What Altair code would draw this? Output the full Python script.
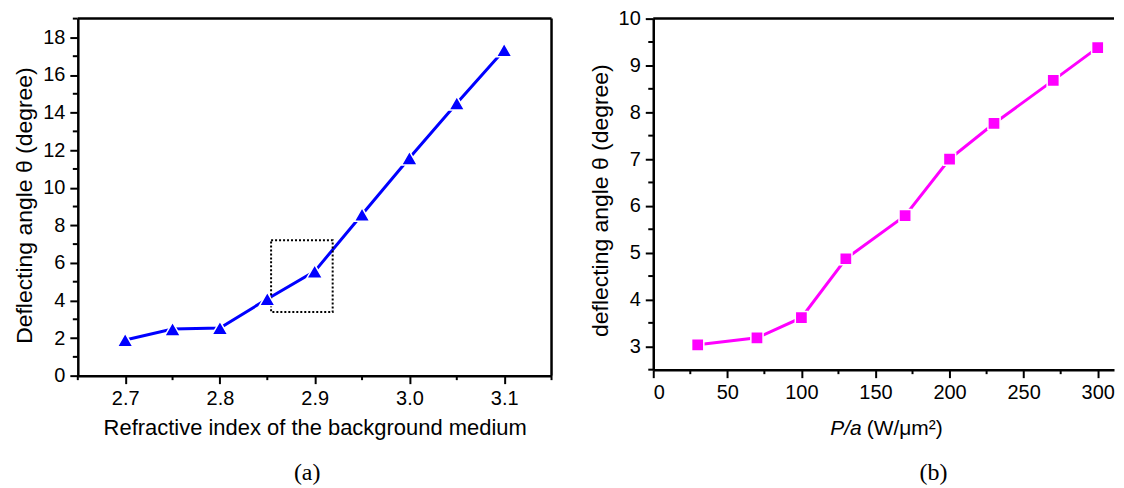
import altair as alt
import pandas as pd

# ---------------- data: panel (a) ----------------
n_bg = [2.70, 2.75, 2.80, 2.85, 2.90, 2.95, 3.00, 3.05, 3.10]
theta_a = [1.90, 2.48, 2.54, 4.08, 5.55, 8.58, 11.58, 14.50, 17.33]
box_x1 = [2.854]
box_x2 = [2.919]
box_y1 = [3.39]
box_y2 = [7.20]
a_x_major = [2.7, 2.8, 2.9, 3.0, 3.1]
a_x_minor = [2.65, 2.75, 2.85, 2.95, 3.05, 3.15]
a_y_major = [0, 2, 4, 6, 8, 10, 12, 14, 16, 18]
a_y_minor = [1, 3, 5, 7, 9, 11, 13, 15, 17, 19]

# ---------------- data: panel (b) ----------------
p_a = [30, 70, 100, 130, 170, 200, 230, 270, 300]
theta_b = [3.03, 3.18, 3.61, 4.87, 5.79, 7.00, 7.76, 8.68, 9.38]
b_x_major = [0, 50, 100, 150, 200, 250, 300]
b_x_minor = [25, 75, 125, 175, 225, 275]
b_y_major = [3, 4, 5, 6, 7, 8, 9, 10]
b_y_minor = [2.5, 3.5, 4.5, 5.5, 6.5, 7.5, 8.5, 9.5]

FONT = "Liberation Sans"
SERIF = "Liberation Serif"
BLUE = "#0000FF"
MAGENTA = "#FF00FF"

one = pd.DataFrame({"k": [0]})

# ---------------- panel (a) ----------------
AW, AH = 475, 358
xa = alt.Scale(domain=[2.65, 3.15], nice=False, zero=False)
ya = alt.Scale(domain=[0, 19], nice=False, zero=False)
ax_xa = alt.Axis(values=a_x_major, format=".1f",
                 title="Refractive index of the background medium",
                 titleFontSize=22, titleY=59.5, titleBaseline="alphabetic")
ax_ya = alt.Axis(values=a_y_major, format="d", titleFontSize=23,
                 title="Deflecting angle θ (degree)", titleY=187)

df_a = pd.DataFrame({"n": n_bg, "t": theta_a})

line_a = alt.Chart(df_a).mark_line(color=BLUE, strokeWidth=3).encode(
    x=alt.X("n:Q", scale=xa, axis=ax_xa),
    y=alt.Y("t:Q", scale=ya, axis=ax_ya),
)
pts_a = alt.Chart(df_a).mark_point(
    shape="triangle-up", filled=True, size=250, color=BLUE, fill=BLUE,
    stroke="white", strokeWidth=1.5, opacity=1
).encode(
    x=alt.X("n:Q", scale=xa, axis=ax_xa),
    y=alt.Y("t:Q", scale=ya, axis=ax_ya),
)
box_a = alt.Chart(pd.DataFrame({"x1": box_x1, "x2": box_x2, "y1": box_y1, "y2": box_y2})).mark_rect(
    fill="white", fillOpacity=0, stroke="black", strokeWidth=2, strokeDash=[2, 2]
).encode(
    x=alt.X("x1:Q", scale=xa, axis=ax_xa), x2="x2:Q",
    y=alt.Y("y1:Q", scale=ya, axis=ax_ya), y2="y2:Q",
)
ymin_a = alt.Chart(pd.DataFrame({"v": a_y_minor})).mark_rule(color="black", strokeWidth=2).encode(
    y=alt.Y("v:Q", scale=ya, axis=ax_ya), x=alt.value(-5), x2=alt.value(0))
xmin_a = alt.Chart(pd.DataFrame({"v": a_x_minor})).mark_rule(color="black", strokeWidth=2).encode(
    x=alt.X("v:Q", scale=xa, axis=ax_xa), y=alt.value(AH), y2=alt.value(AH + 4.5))
top_a = alt.Chart(one).mark_rule(color="black", strokeWidth=2.5).encode(
    x=alt.value(0), x2=alt.value(AW), y=alt.value(0))
right_a = alt.Chart(one).mark_rule(color="black", strokeWidth=2.5).encode(
    x=alt.value(AW), y=alt.value(0), y2=alt.value(AH))
cap_a = alt.Chart(one).mark_text(
    text="(a)", font=SERIF, fontSize=24, align="center", baseline="alphabetic", color="black"
).encode(x=alt.value(230), y=alt.value(463))

left = alt.layer(line_a, box_a, pts_a, ymin_a, xmin_a, top_a, right_a, cap_a).properties(
    width=AW, height=AH)

# ---------------- panel (b) ----------------
BW, BH = 462, 352
xb = alt.Scale(domain=[0, 311], nice=False, zero=False)
yb = alt.Scale(domain=[2.5, 10], nice=False, zero=False)
ax_xb = alt.Axis(values=b_x_major, format="d", title=None)
ax_yb = alt.Axis(values=b_y_major, format="d", titleFontSize=23,
                 title="deflecting angle θ (degree)", titleY=182)

df_b = pd.DataFrame({"p": p_a, "t": theta_b})

line_b = alt.Chart(df_b).mark_line(color=MAGENTA, strokeWidth=3).encode(
    x=alt.X("p:Q", scale=xb, axis=ax_xb),
    y=alt.Y("t:Q", scale=yb, axis=ax_yb),
)
pts_b = alt.Chart(df_b).mark_point(
    shape="square", filled=True, size=150, color=MAGENTA, fill=MAGENTA,
    stroke="white", strokeWidth=1.5, opacity=1
).encode(
    x=alt.X("p:Q", scale=xb, axis=ax_xb),
    y=alt.Y("t:Q", scale=yb, axis=ax_yb),
)
ymin_b = alt.Chart(pd.DataFrame({"v": b_y_minor})).mark_rule(color="black", strokeWidth=2).encode(
    y=alt.Y("v:Q", scale=yb, axis=ax_yb), x=alt.value(-5), x2=alt.value(0))
xmin_b = alt.Chart(pd.DataFrame({"v": b_x_minor})).mark_rule(color="black", strokeWidth=2).encode(
    x=alt.X("v:Q", scale=xb, axis=ax_xb), y=alt.value(BH), y2=alt.value(BH + 4.5))
top_b = alt.Chart(one).mark_rule(color="black", strokeWidth=2.5).encode(
    x=alt.value(0), x2=alt.value(BW), y=alt.value(0))
ttl_p = alt.Chart(one).mark_text(
    text="P/a", font=FONT, fontSize=21, fontStyle="italic", align="right",
    baseline="alphabetic", color="black"
).encode(x=alt.value(209), y=alt.value(BH + 66))
ttl_u = alt.Chart(one).mark_text(
    text="(W/μm²)", font=FONT, fontSize=21, align="left",
    baseline="alphabetic", color="black"
).encode(x=alt.value(214), y=alt.value(BH + 66))
cap_b = alt.Chart(one).mark_text(
    text="(b)", font=SERIF, fontSize=24, align="center", baseline="alphabetic", color="black"
).encode(x=alt.value(281), y=alt.value(463))

right = alt.layer(line_b, pts_b, ymin_b, xmin_b, top_b, ttl_p, ttl_u, cap_b).properties(
    width=BW, height=BH)

chart = alt.hconcat(
    left, right, spacing=102, bounds="flush",
    padding={"left": 5, "top": 0, "right": 0, "bottom": 0},
).configure_view(stroke=None).configure_axis(
    domainColor="black", domainWidth=2.5,
    tickColor="black", tickWidth=2, tickSize=8,
    labelFont=FONT, labelFontSize=20, labelColor="black", labelPadding=5,
    titleFont=FONT, titleFontSize=21, titleFontWeight="normal", titleColor="black",
    titlePadding=6, grid=False,
)

chart.save("out.html", embed_options={"renderer": "svg", "actions": False})
